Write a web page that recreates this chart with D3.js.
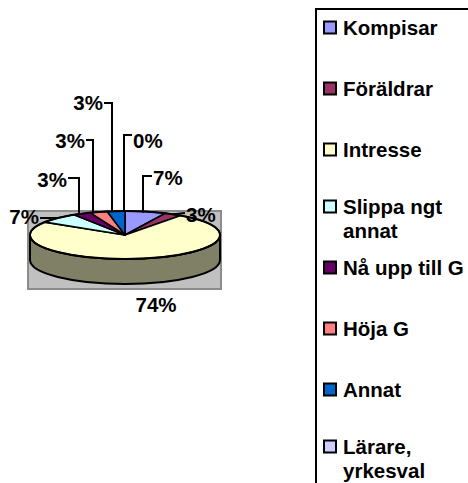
<!DOCTYPE html>
<html>
<head>
<meta charset="utf-8">
<script src="https://cdn.jsdelivr.net/npm/d3@7"></script>
<style>
  html, body { margin: 0; padding: 0; background: #ffffff; }
  svg { display: block; }
  text { font-family: "Liberation Sans", Arial, sans-serif; font-weight: bold; }
</style>
</head>
<body>
<script>
// ---- data ----
const categories = ["Kompisar", "Föräldrar", "Intresse", "Slippa ngt annat", "Nå upp till G", "Höja G", "Annat", "Lärare, yrkesval"];
const values = [7, 3, 74, 7, 3, 3, 3, 0];
const valueLabels = ["7%", "3%", "74%", "7%", "3%", "3%", "3%", "0%"];
const legendLines = [["Kompisar"], ["Föräldrar"], ["Intresse"], ["Slippa ngt", "annat"], ["Nå upp till G"], ["Höja G"], ["Annat"], ["Lärare,", "yrkesval"]];

// ---- styles / layout ----
const colors = ["#9999FF", "#993366", "#FFFFCC", "#CCFFFF", "#660066", "#FF8080", "#0066CC", "#CCCCFF"];
const sideColors = ["#4d4d80", "#4d1a33", "#808066", "#668080", "#330033", "#804040", "#003366", "#666680"];
const W = 468, H = 483;
const cx = 125, cy = 235, rx = 95, ry = 24, depth = 25;
const fontSize = 20.5;

// label placements: type elbow (vertical leg at ex from pie edge up to ey, then horizontal to hx) or direct
const labelLayout = [
  { type: "elbow", ex: 143, ey: 176, hx: 152, tx: 153, ty: 185, anchor: "start" },
  { type: "direct", lx: 185, ly: 213, tx: 186, ty: 222, anchor: "start" },
  { type: "none", tx: 156, ty: 312, anchor: "middle" },
  { type: "direct", lx: 40, ly: 218, tx: 39, ty: 224, anchor: "end" },
  { type: "elbow", ex: 79, ey: 178, hx: 68, tx: 67, ty: 187, anchor: "end" },
  { type: "elbow", ex: 93, ey: 140, hx: 86, tx: 85, ty: 148, anchor: "end" },
  { type: "elbow", ex: 112, ey: 103, hx: 104, tx: 103, ty: 110, anchor: "end" },
  { type: "elbow", ex: 124, ey: 135, hx: 132, tx: 133, ty: 148, anchor: "start" }
];

const svg = d3.select("body").append("svg").attr("width", W).attr("height", H);

// plot area
svg.append("rect")
  .attr("x", 28).attr("y", 211).attr("width", 193).attr("height", 78)
  .attr("fill", "#C0C0C0").attr("stroke", "#8c8c8c").attr("stroke-width", 2);

const pie = d3.pie().sort(null).value(d => d)(values);
const pt = a => [cx + rx * Math.sin(a), cy - ry * Math.cos(a)];

// side (front half visible)
const g = svg.append("g");
pie.forEach((p, i) => {
  const a0 = Math.max(p.startAngle, Math.PI / 2);
  const a1 = Math.min(p.endAngle, 3 * Math.PI / 2);
  if (a1 <= a0) return;
  const [x0, y0] = pt(a0), [x1, y1] = pt(a1);
  const path = `M${x0},${y0} A${rx},${ry} 0 0 1 ${x1},${y1} L${x1},${y1 + depth} A${rx},${ry} 0 0 0 ${x0},${y0 + depth} Z`;
  g.append("path").attr("d", path).attr("fill", sideColors[i])
    .attr("stroke", "#000").attr("stroke-width", 2).attr("stroke-linejoin", "round");
});

// top face
pie.forEach((p, i) => {
  if (p.endAngle - p.startAngle <= 0) return;
  const [x0, y0] = pt(p.startAngle), [x1, y1] = pt(p.endAngle);
  const large = (p.endAngle - p.startAngle) > Math.PI ? 1 : 0;
  const path = `M${cx},${cy} L${x0},${y0} A${rx},${ry} 0 ${large} 1 ${x1},${y1} Z`;
  g.append("path").attr("d", path).attr("fill", colors[i])
    .attr("stroke", "#000").attr("stroke-width", 1.6).attr("stroke-linejoin", "round");
});
// outer outline of top ellipse
g.append("ellipse").attr("cx", cx).attr("cy", cy).attr("rx", rx).attr("ry", ry)
  .attr("fill", "none").attr("stroke", "#000").attr("stroke-width", 2);

// labels and leaders
const edgeY = x => cy - ry * Math.sqrt(Math.max(0, 1 - ((x - cx) / rx) ** 2));
pie.forEach((p, i) => {
  const L = labelLayout[i];
  let pts = null;
  if (L.type === "elbow") {
    pts = [[L.ex, edgeY(L.ex) + 1], [L.ex, L.ey], [L.hx, L.ey]];
  } else if (L.type === "direct") {
    const m = (p.startAngle + p.endAngle) / 2;
    pts = [pt(m), [L.lx, L.ly]];
  }
  if (pts) {
    svg.append("path").attr("d", d3.line()(pts)).attr("fill", "none")
      .attr("stroke", "#000").attr("stroke-width", 2);
  }
  svg.append("text").attr("x", L.tx).attr("y", L.ty).attr("text-anchor", L.anchor)
    .attr("font-size", fontSize).attr("fill", "#000").text(valueLabels[i]);
});

// legend
svg.append("rect").attr("x", 316).attr("y", 9).attr("width", 170).attr("height", 490)
  .attr("fill", "#fff").attr("stroke", "#000").attr("stroke-width", 2);
let shift = 0;
categories.forEach((c, i) => {
  const lines = legendLines[i];
  if (lines.length > 1) shift += 4;
  const yc = 27.5 + 61 * i - shift;
  svg.append("rect").attr("x", 324).attr("y", yc - 6).attr("width", 12).attr("height", 12)
    .attr("fill", colors[i]).attr("stroke", "#000").attr("stroke-width", 2);
  const t = svg.append("text").attr("x", 343).attr("y", yc + 7.3)
    .attr("font-size", fontSize).attr("fill", "#000");
  lines.forEach((ln, k) => {
    t.append("tspan").attr("x", 343).attr("dy", k === 0 ? 0 : 24.5).text(ln);
  });
});
</script>
</body>
</html>
